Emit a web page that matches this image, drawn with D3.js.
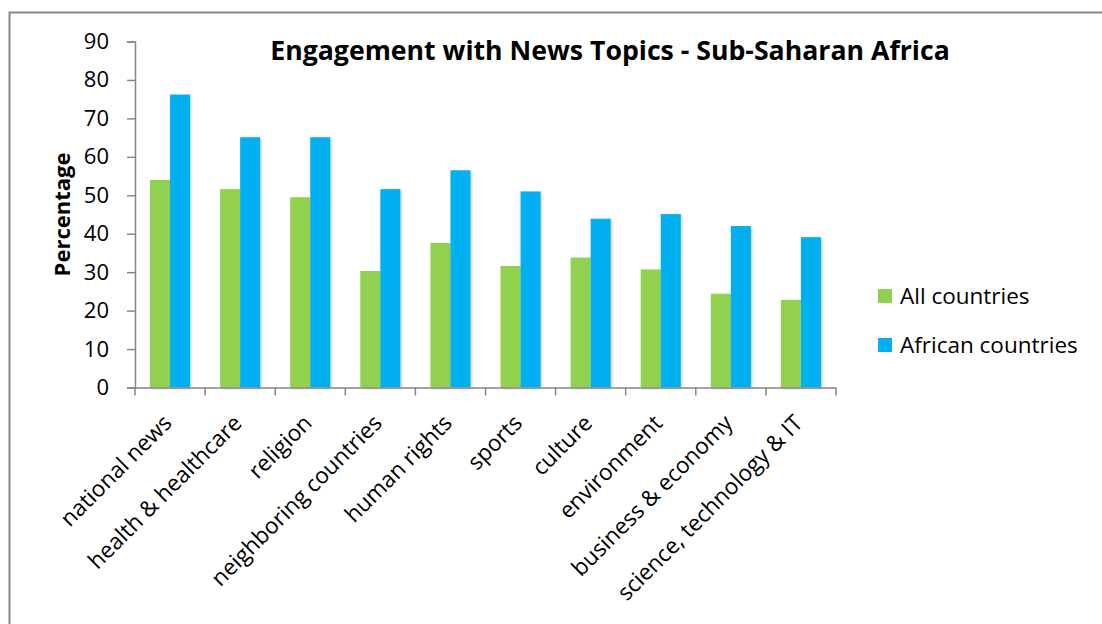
<!DOCTYPE html>
<html>
<head>
<meta charset="utf-8">
<script src="https://cdn.jsdelivr.net/npm/d3@7"></script>
<style>
  html, body { margin: 0; padding: 0; background: #fff; }
  svg { display: block; }
  text { font-family: "Open Sans", "Noto Sans", sans-serif; fill: #000; }
</style>
</head>
<body>
<svg id="chart" width="1102" height="624"></svg>
<script>
const categories = ["national news", "health & healthcare", "religion", "neighboring countries",
  "human rights", "sports", "culture", "environment", "business & economy", "science, technology & IT"];
const allCountries = [54.0, 51.6, 49.5, 30.3, 37.6, 31.6, 33.8, 30.7, 24.4, 22.8];
const africanCountries = [76.2, 65.1, 65.1, 51.6, 56.5, 51.0, 43.9, 45.1, 42.0, 39.1];
const seriesNames = ["All countries", "African countries"];
const seriesColors = ["#92D050", "#00B0F0"];
const yTicks = [0, 10, 20, 30, 40, 50, 60, 70, 80, 90];
const titleText = "Engagement with News Topics - Sub-Saharan Africa";
const yTitle = "Percentage";

const svg = d3.select("#chart");

// frame
svg.append("path")
  .attr("d", "M9.5,630 V12.5 H1110")
  .attr("fill", "none").attr("stroke", "#868686").attr("stroke-width", 2);

const x0 = 135, x1 = 836, yTop = 41.5, yBot = 387.5;

const x = d3.scaleBand().domain(categories).range([x0, x1]).paddingInner(3/7).paddingOuter(1.5/7);
const xs = d3.scaleBand().domain(seriesNames).range([0, x.bandwidth()]);
const y = d3.scaleLinear().domain([0, 90]).range([yBot, yTop]);

const data = categories.map((c, i) => ({ cat: c, vals: [allCountries[i], africanCountries[i]] }));

// shadow filter
const defs = svg.append("defs");
const f = defs.append("filter").attr("id", "sh").attr("x", "-20%").attr("y", "-5%").attr("width", "150%").attr("height", "115%");
f.append("feDropShadow").attr("dx", 1.2).attr("dy", 1.2).attr("stdDeviation", 1.2).attr("flood-color", "#000").attr("flood-opacity", 0.22);

const groups = svg.append("g").selectAll("g").data(data).join("g")
  .attr("transform", d => `translate(${x(d.cat)},0)`);
groups.selectAll("rect").data(d => d.vals.map((v, k) => ({ v, k }))).join("rect")
  .attr("x", d => xs(seriesNames[d.k]))
  .attr("width", xs.bandwidth())
  .attr("y", d => y(d.v))
  .attr("height", d => y(0) - y(d.v))
  .attr("fill", d => seriesColors[d.k])
  .attr("filter", "url(#sh)");

// y axis
const yAxis = d3.axisLeft(y).tickValues(yTicks).tickSize(8).tickPadding(18).tickFormat(d3.format("d"));
const gy = svg.append("g").attr("transform", `translate(${x0},0)`).call(yAxis);
gy.select(".domain").attr("stroke", "#868686").attr("stroke-width", 1.5);
gy.selectAll(".tick line").attr("stroke", "#868686").attr("stroke-width", 1.5);
gy.selectAll(".tick text").style("font-size", "22px").attr("fill", "#000");

// x axis
const xAxisTicks = d3.axisBottom(x).tickSize(0).tickFormat("");
const gx = svg.append("g").attr("transform", `translate(0,${yBot})`).call(xAxisTicks);
gx.select(".domain").attr("stroke", "#868686").attr("stroke-width", 1.5);
// category boundary ticks
const step = x.step();
const bounds = d3.range(categories.length + 1).map(i => x0 + i * step);
gx.selectAll("line.bt").data(bounds).join("line").attr("class", "bt")
  .attr("x1", d => d).attr("x2", d => d).attr("y1", 0).attr("y2", 8)
  .attr("stroke", "#868686").attr("stroke-width", 1.5);
// rotated labels
gx.selectAll("text.cl").data(categories).join("text").attr("class", "cl")
  .attr("text-anchor", "end")
  .style("font-size", "22.5px")
  .attr("transform", d => `translate(${x(d) + x.bandwidth() / 2 + 3},${37}) rotate(-45)`)
  .text(d => d);

// title
const title = svg.append("text").attr("x", 610).attr("y", 60).attr("text-anchor", "middle")
  .style("font-size", "26px").style("font-weight", "bold").text(titleText);
const tw = title.node().getComputedTextLength();
title.style("font-size", (26 * 680 / tw) + "px");

// y title
svg.append("text").attr("transform", `translate(70,${(yTop + yBot) / 2}) rotate(-90)`)
  .attr("text-anchor", "middle").style("font-size", "22px").style("font-weight", "bold").text(yTitle);

// legend
const leg = svg.append("g").selectAll("g").data(seriesNames).join("g")
  .attr("transform", (d, i) => `translate(878,${289 + i * 49})`);
leg.append("rect").attr("width", 14).attr("height", 14).attr("fill", (d, i) => seriesColors[i]);
leg.append("text").attr("x", 22).attr("y", 15).style("font-size", "22.5px").text(d => d);
</script>
</body>
</html>
